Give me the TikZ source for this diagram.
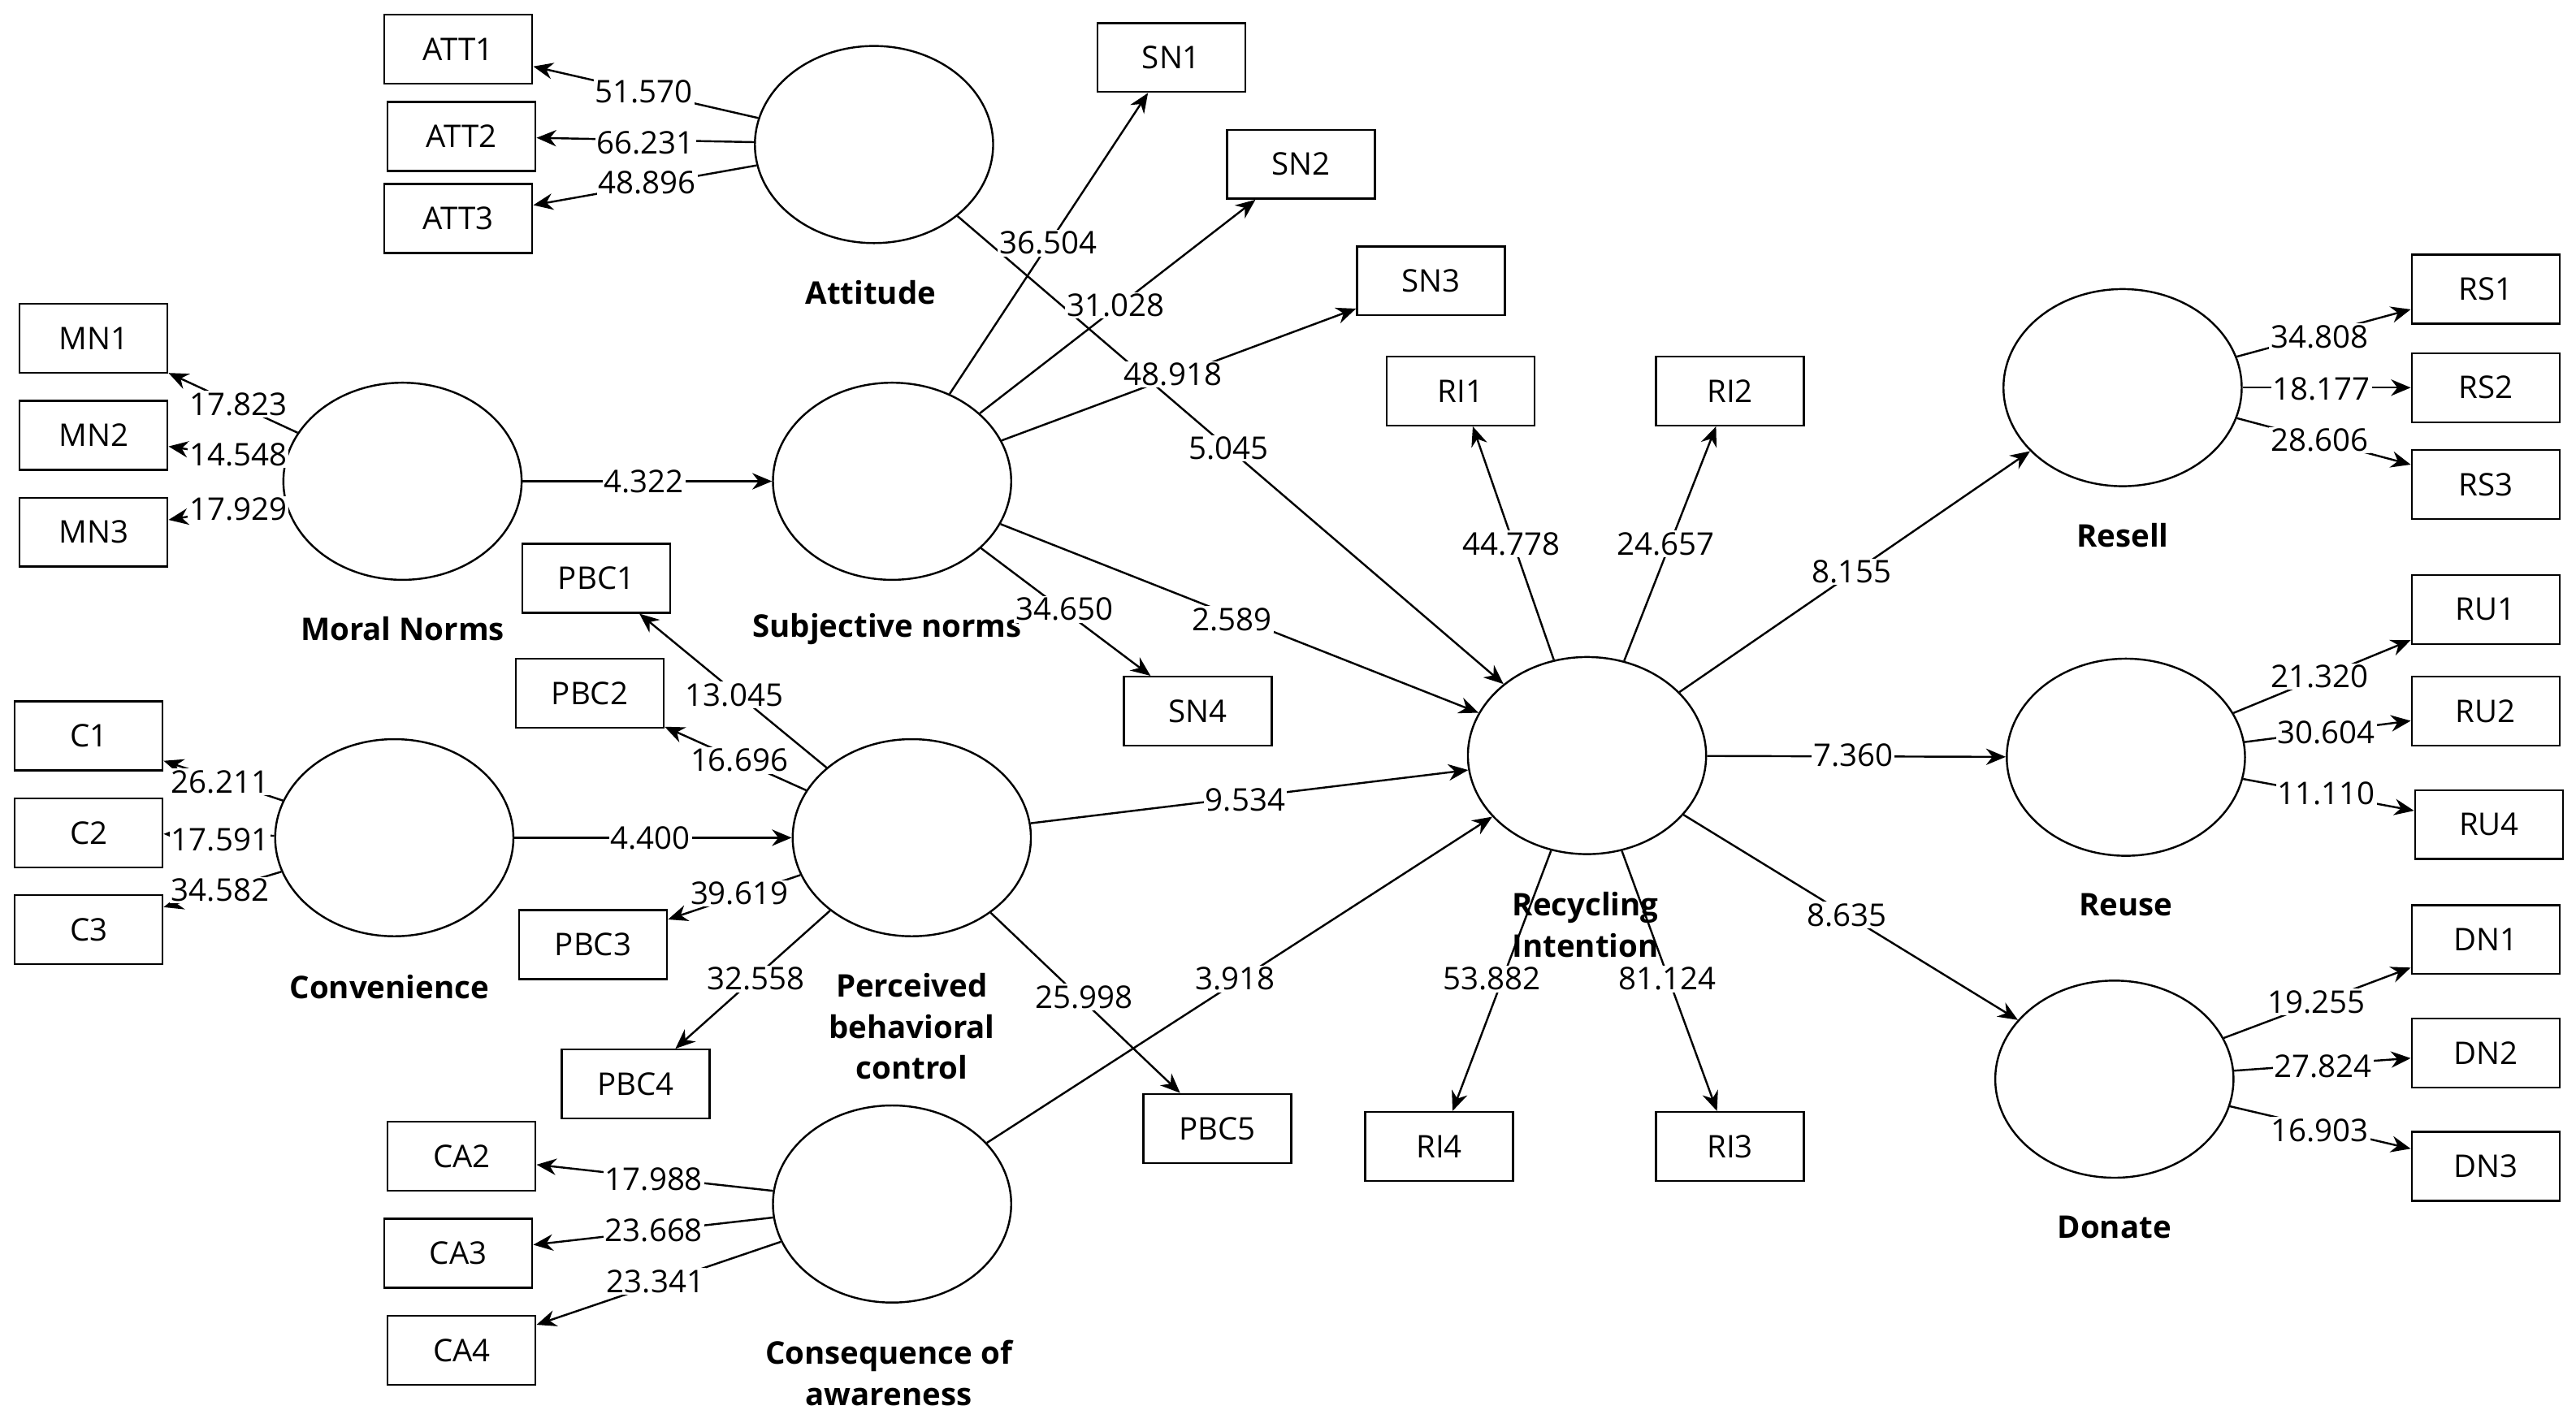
\documentclass[tikz,border=0pt]{standalone}
\usepackage{fontspec}
\setmainfont{Open Sans}
\usetikzlibrary{arrows.meta,shapes.geometric}
\begin{document}
\begin{tikzpicture}[x=1pt,y=-1pt,
 lat/.style={draw,ellipse,line width=1.2pt,minimum width=145pt,minimum height=120pt,inner sep=0pt},
 box/.style={draw,rectangle,line width=1.2pt,minimum width=90pt,minimum height=42pt,font=\fontsize{19}{22}\selectfont},
 ll/.style={font=\bfseries\fontsize{19}{25}\selectfont,align=center},
 num/.style={font=\fontsize{19}{22}\selectfont,fill=white,inner sep=1pt},
 ar/.style={line width=1.2pt,-{Stealth[length=12pt,width=10pt]}}]
\useasboundingbox (0,0) rectangle (1568,866);
% latent
\node[lat] (att) at (532,88) {};
\node[lat] (mn) at (245,293) {};
\node[lat] (sn) at (543,293) {};
\node[lat] (con) at (240,510) {};
\node[lat] (pbc) at (555,510) {};
\node[lat] (ca) at (543,733) {};
\node[lat] (ri) at (966,460) {};
\node[lat] (rs) at (1292,236) {};
\node[lat] (ru) at (1294,461) {};
\node[lat] (dn) at (1287,657) {};
\node[ll] (latt) at (530,178) {Attitude};
\node[ll] (lmn) at (245,383) {Moral Norms};
\node[ll] (lsn) at (540,383) {Subjective norms};
\node[ll] (lcon) at (237,601) {Convenience};
\node[ll] (lpbc) at (555,625) {Perceived\\behavioral\\control};
\node[ll] (lca) at (541,836) {Consequence of\\awareness};
\node[ll] (lri) at (965,563) {Recycling\\Intention};
\node[ll] (lrs) at (1292,326) {Resell};
\node[ll] (lru) at (1294,551) {Reuse};
\node[ll] (ldn) at (1287,747) {Donate};
% boxes
\foreach \n/\t/\x/\y in {a1/ATT1/279/30,a2/ATT2/281/83,a3/ATT3/279/133,
 s1/SN1/713/35,s2/SN2/792/100,s3/SN3/871/171,s4/SN4/729/433,
 m1/MN1/57/206,m2/MN2/57/265,m3/MN3/57/324,
 p1/PBC1/363/352,p2/PBC2/359/422,p3/PBC3/361/575,p4/PBC4/387/660,p5/PBC5/741/687,
 c1/C1/54/448,c2/C2/54/507,c3/C3/54/566,
 ca2/CA2/281/704,ca3/CA3/279/763,ca4/CA4/281/822,
 r1/RI1/889/238,r2/RI2/1053/238,r4/RI4/876/698,r3/RI3/1053/698,
 rs1/RS1/1513/176,rs2/RS2/1513/236,rs3/RS3/1513/295,
 ru1/RU1/1513/371,ru2/RU2/1513/433,ru4/RU4/1515/502,
 d1/DN1/1513/572,d2/DN2/1513/641,d3/DN3/1513/710}
 \node[box] (\n) at (\x,\y) {\t};
% loadings
\foreach \l/\b in {att/a1,att/a2,att/a3,sn/s1,sn/s2,sn/s3,sn/s4,mn/m1,mn/m2,mn/m3,
 pbc/p1,pbc/p2,pbc/p3,pbc/p4,pbc/p5,con/c1,con/c2,con/c3,ca/ca2,ca/ca3,ca/ca4,
 ri/r1,ri/r2,ri/r3,ri/r4,rs/rs1,rs/rs2,rs/rs3,ru/ru1,ru/ru2,ru/ru4,dn/d1,dn/d2,dn/d3}
 \draw[ar] (\l) -- (\b);
% structural
\foreach \a/\b in {att/ri,mn/sn,sn/ri,con/pbc,pbc/ri,ca/ri,ri/rs,ri/ru,ri/dn}
 \draw[ar] (\a) -- (\b);
% numbers
\foreach \v/\x/\y in {51.570/392/56,66.231/393/87,48.896/394/111,
 36.504/638/148,31.028/679/186,48.918/714/228,34.650/648/371,
 17.823/145/246,14.548/145/277,17.929/145/310,
 4.322/392/293,5.045/748/273,2.589/750/377,
 13.045/447/423,16.696/450/463,39.619/450/544,32.558/460/596,25.998/660/607,
 26.211/134/476,17.591/134/511,34.582/134/542,4.400/396/510,
 9.534/758/487,3.918/752/596,
 17.988/398/718,23.668/398/749,23.341/399/780,
 44.778/920/331,24.657/1014/331,53.882/908/596,81.124/1015/596,
 8.155/1127/348,7.360/1128/460,8.635/1124/557,
 34.808/1412/205,18.177/1413/237,28.606/1412/268,
 21.320/1412/412,30.604/1416/446,11.110/1416/483,
 19.255/1410/610,27.824/1414/649,16.903/1412/688}
 \node[num] at (\x,\y) {\v};
\end{tikzpicture}
\end{document}
